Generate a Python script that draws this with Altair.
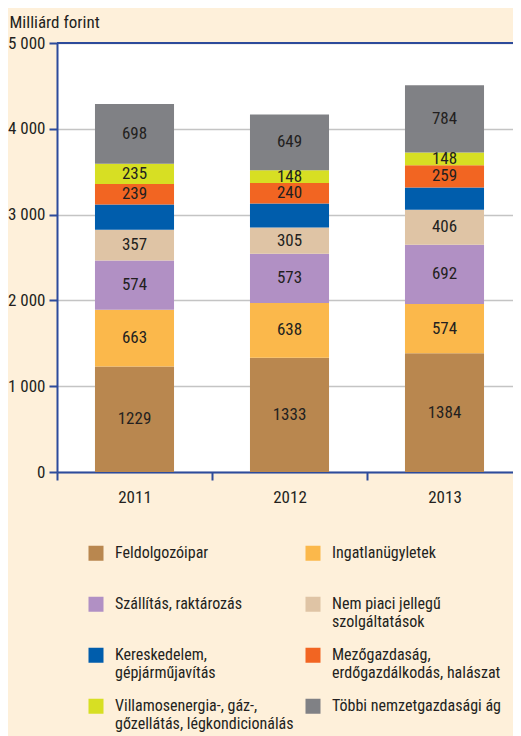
import altair as alt
import pandas as pd

years = ["2011", "2012", "2013"]
categories = [
    "Feldolgozóipar",
    "Ingatlanügyletek",
    "Szállítás, raktározás",
    "Nem piaci jellegű|szolgáltatások",
    "Kereskedelem,|gépjárműjavítás",
    "Mezőgazdaság,|erdőgazdálkodás, halászat",
    "Villamosenergia-, gáz-,|gőzellátás, légkondicionálás",
    "Többi nemzetgazdasági ág",
]
feldolgozoipar = [1229, 1333, 1384]
ingatlan = [663, 638, 574]
szallitas = [574, 573, 692]
nem_piaci = [357, 305, 406]
kereskedelem = [295, 280, 260]
mezogazdasag = [239, 240, 259]
villamos = [235, 148, 148]
tobbi = [698, 649, 784]
show_label = [True, True, True, True, False, True, True, True]
colors = ["#B9874F", "#FBB84B", "#B190C4", "#DFC4A5",
          "#005DAC", "#F26522", "#D7DF23", "#808185"]

series = [feldolgozoipar, ingatlan, szallitas, nem_piaci,
          kereskedelem, mezogazdasag, villamos, tobbi]
rows = []
for i, (cat, vals) in enumerate(zip(categories, series)):
    for y, v in zip(years, vals):
        rows.append({"year": y, "category": cat, "value": v, "idx": i,
                     "label": str(v) if show_label[i] else ""})
df = pd.DataFrame(rows)

FONT = "Roboto Condensed, Roboto"
FS = 17
LFS = 16
BLUE = "#2D4B9B"
TXT = "#231F20"

base = alt.Chart(df)

x_enc = alt.X(
    "year:N", title=None,
    scale=alt.Scale(paddingInner=0, paddingOuter=0),
    axis=alt.Axis(labelFont=FONT, labelFontSize=FS, labelColor=TXT, labelAngle=0,
                  domainColor=BLUE, domainWidth=2, tickColor=BLUE, tickWidth=2,
                  tickSize=8, tickBand="extent", labelPadding=9, grid=False),
)
y_axis = alt.Axis(
    values=[0, 1000, 2000, 3000, 4000, 5000],
    labelExpr="replace(format(datum.value, ','), ',', ' ')",
    labelFont=FONT, labelFontSize=FS, labelColor=TXT, labelPadding=4,
    domainColor=BLUE, domainWidth=2, tickColor=BLUE, tickWidth=2, tickSize=8,
    gridColor="#C4C4C4", gridWidth=1.5,
    title="Milliárd forint", titleFont=FONT, titleFontSize=FS, titleFontWeight="normal",
    titleColor=TXT, titleAngle=0, titleAlign="left", titleBaseline="alphabetic",
    titleX=-48, titleY=-16,
)
y_scale = alt.Scale(domain=[0, 5000], nice=False)

legend_expr = ("indexof(datum.label, '|') >= 0 ? split(datum.label, '|') "
               ": [datum.label, ' ']")
# square symbol drawn a little below its anchor so it lines up with the first label line
SQUARE = "M-1,0.1L1,0.1L1,2.1L-1,2.1Z"

bars = base.mark_bar(width=alt.RelativeBandSize(band=0.51)).encode(
    x=x_enc,
    y=alt.Y("value:Q", stack="zero", scale=y_scale, axis=y_axis),
    color=alt.Color(
        "category:N",
        scale=alt.Scale(domain=categories, range=colors),
        legend=alt.Legend(
            title=None, orient="none", direction="horizontal",
            legendX=31, legendY=494, columns=2,
            symbolType=SQUARE, symbolSize=225, symbolStrokeWidth=0,
            labelFont=FONT, labelFontSize=LFS, labelColor=TXT,
            labelExpr=legend_expr, labelBaseline="top",
            labelOffset=11, columnPadding=11, rowPadding=9, gridAlign="all",
            padding=0, labelLimit=400,
        ),
    ),
    order=alt.Order("idx:Q", sort="ascending"),
)

text = base.transform_stack(
    stack="value", groupby=["year"], as_=["y0", "y1"],
    sort=[alt.SortField("idx", order="ascending")],
).transform_calculate(
    mid="(datum.y0 + datum.y1) / 2"
).transform_filter(
    "datum.label != ''"
).mark_text(font=FONT, fontSize=FS, color=TXT, baseline="middle").encode(
    x=x_enc,
    y=alt.Y("mid:Q", scale=y_scale, axis=y_axis),
    text="label:N",
)

top_rule = base.transform_filter("datum.idx == 0 && datum.year == '2011'").mark_rule(
    color=BLUE, strokeWidth=2
).encode(y=alt.datum(5000))

chart = alt.layer(bars, text, top_rule).properties(
    width=465, height=429,
    padding={"left": 49, "top": 35, "right": -9, "bottom": 264},
    autosize=alt.AutoSizeParams(type="none"),
    background="#FEF0DA",
).configure_view(fill="white", stroke=None)

chart.save("out.html", embed_options={"renderer": "svg", "actions": False})
